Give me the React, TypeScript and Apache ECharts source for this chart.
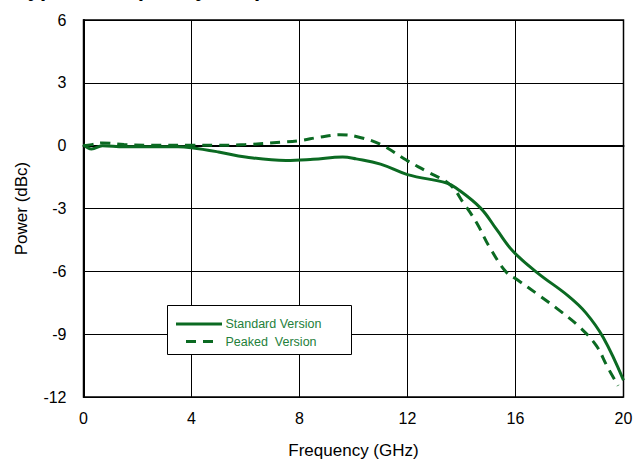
import React, { useEffect, useRef } from "react";
import * as echarts from "echarts";

const xTicks = [0, 4, 8, 12, 16, 20];
const yTicks = [-12, -9, -6, -3, 0, 3, 6];

const standardFreq = [0, 0.3, 0.7, 1.5, 2.5, 3.5, 4.0, 5.0, 6.0, 7.5, 8.5, 9.6, 10.1, 11.0, 12.0, 13.45, 13.8, 14.7, 15.3, 15.9, 16.8, 17.95, 18.6, 19.25, 20.0];
const standardPower = [0.05, -0.16, 0.0, -0.05, -0.05, -0.05, -0.1, -0.3, -0.54, -0.71, -0.65, -0.54, -0.63, -0.88, -1.38, -1.78, -2.02, -2.97, -4.0, -5.03, -6.06, -7.17, -7.97, -9.16, -11.2];

const peakedFreq = [0, 0.3, 0.7, 1.5, 2.5, 4.0, 5.0, 6.0, 7.3, 8.0, 8.76, 9.5, 10.1, 11.0, 11.97, 12.7, 13.57, 14.07, 14.56, 15.05, 15.67, 16.04, 16.9, 17.65, 18.39, 19.0, 19.38, 19.8];
const peakedPower = [0.0, 0.05, 0.13, 0.05, 0.02, 0.02, 0.02, 0.05, 0.16, 0.24, 0.41, 0.52, 0.44, 0.06, -0.7, -1.22, -1.86, -2.73, -3.68, -4.87, -6.06, -6.38, -7.17, -7.89, -8.68, -9.56, -10.5, -11.46];

const seriesNames = ["Standard Version", "Peaked  Version"];
const titleText = "Typical Frequency Response";

const LINE_COLOR = "#0b6a22";
const LEGEND_TEXT = "#23803a";
const FONT = "Liberation Sans, Arial, sans-serif";

export default function App() {
  const ref = useRef<HTMLDivElement>(null);
  useEffect(() => {
    if (!ref.current) return;
    const chart = echarts.init(ref.current, null, { renderer: "svg" });
    const std = standardFreq.map((f, i) => [f, standardPower[i]]);
    const pk = peakedFreq.map((f, i) => [f, peakedPower[i]]);
    chart.setOption({
      animation: false,
      backgroundColor: "#ffffff",
      grid: {
        left: 83.5,
        right: 13.5,
        top: 20,
        bottom: 66,
        show: true,
        borderColor: "#000",
        borderWidth: 1.5,
        backgroundColor: "transparent",
      },
      xAxis: {
        type: "value",
        min: xTicks[0],
        max: xTicks[xTicks.length - 1],
        interval: 4,
        name: "Frequency (GHz)",
        nameLocation: "middle",
        nameGap: 45,
        nameTextStyle: { fontFamily: FONT, fontSize: 17, color: "#000" },
        axisLine: { show: true, lineStyle: { color: "#000", width: 2 } },
        axisTick: { show: false },
        axisLabel: { fontFamily: FONT, fontSize: 16, color: "#000", margin: 13 },
        splitLine: { show: true, lineStyle: { color: "#000", width: 1 } },
      },
      yAxis: {
        type: "value",
        min: yTicks[0],
        max: yTicks[yTicks.length - 1],
        interval: 3,
        name: "Power (dBc)",
        nameLocation: "middle",
        nameGap: 54,
        nameTextStyle: { fontFamily: FONT, fontSize: 17, color: "#000" },
        axisLine: { show: true, lineStyle: { color: "#000", width: 2 } },
        axisTick: { show: false },
        axisLabel: { fontFamily: FONT, fontSize: 16, color: "#000", margin: 17 },
        splitLine: { show: true, lineStyle: { color: "#000", width: 1 } },
      },
      series: [
        {
          name: seriesNames[0],
          type: "line",
          data: std,
          smooth: 0.4,
          showSymbol: false,
          lineStyle: { color: LINE_COLOR, width: 3 },
          z: 3,
        },
        {
          name: seriesNames[1],
          type: "line",
          data: pk,
          smooth: 0.4,
          showSymbol: false,
          lineStyle: { color: LINE_COLOR, width: 3, type: [10, 7] },
          z: 3,
        },
      ],
      graphic: [
        {
          type: "text",
          left: 16,
          top: -23,
          style: {
            text: titleText,
            font: `bold 22px ${FONT}`,
            fill: "#000",
          },
        },
        {
          type: "rect",
          shape: { x: 167.5, y: 305.5, width: 184, height: 49 },
          style: { fill: "#fff", stroke: "#000", lineWidth: 1 },
          z: 10,
        },
        {
          type: "line",
          shape: { x1: 176, y1: 324, x2: 222, y2: 324 },
          style: { stroke: LINE_COLOR, lineWidth: 3 },
          z: 11,
        },
        {
          type: "line",
          shape: { x1: 186, y1: 341.5, x2: 220, y2: 341.5 },
          style: { stroke: LINE_COLOR, lineWidth: 3, lineDash: [10, 7] },
          z: 11,
        },
        {
          type: "text",
          x: 225.5,
          y: 324,
          style: {
            text: seriesNames[0],
            font: `12.5px ${FONT}`,
            fill: LEGEND_TEXT,
            verticalAlign: "middle",
          },
          z: 11,
        },
        {
          type: "text",
          x: 225.5,
          y: 341.5,
          style: {
            text: seriesNames[1],
            font: `12.5px ${FONT}`,
            fill: LEGEND_TEXT,
            verticalAlign: "middle",
          },
          z: 11,
        },
      ],
    });
    return () => chart.dispose();
  }, []);
  return <div ref={ref} style={{ width: 637, height: 464, position: "absolute", left: 0, top: 0 }} />;
}
